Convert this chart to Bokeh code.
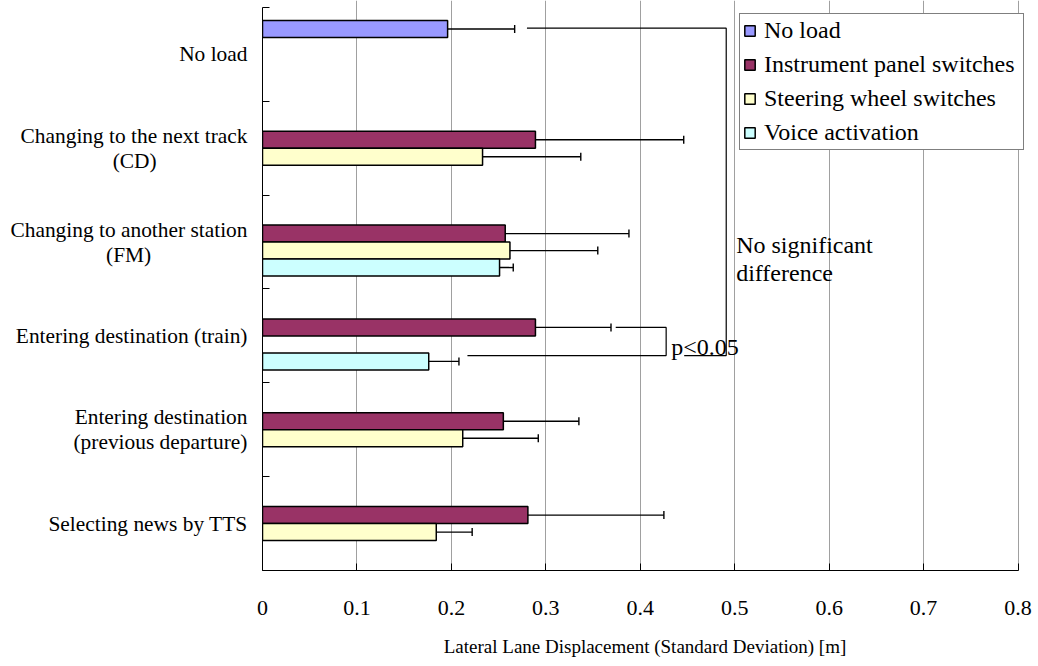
from bokeh.plotting import figure
from bokeh.models import (Range1d, FixedTicker, Whisker, ColumnDataSource, Label,
                          TeeHead)
from bokeh.embed import file_html
from bokeh.resources import INLINE

# ---------------- data ----------------
NB = "\u00a0"
categories = [
    "No load",
    "Changing to the next track\n(CD)" + NB * 17,
    "Changing to another station\n(FM)" + NB * 18,
    "Entering destination (train)",
    "Entering destination\n(previous departure)",
    "Selecting news by TTS",
]
series_names = ["No load", "Instrument panel switches", "Steering wheel switches", "Voice activation"]

no_load_mean = [0.196, None, None, None, None, None]
no_load_sd = [0.071, None, None, None, None, None]
instrument_mean = [None, 0.289, 0.257, 0.289, 0.255, 0.281]
instrument_sd = [None, 0.157, 0.131, 0.080, 0.080, 0.144]
steering_mean = [None, 0.233, 0.262, None, 0.212, 0.184]
steering_sd = [None, 0.104, 0.093, None, 0.080, 0.038]
voice_mean = [None, None, 0.251, 0.176, None, None]
voice_sd = [None, None, 0.0145, 0.032, None, None]

x_ticks = [0, 0.1, 0.2, 0.3, 0.4, 0.5, 0.6, 0.7, 0.8]
x_tick_labels = ["0", "0.1", "0.2", "0.3", "0.4", "0.5", "0.6", "0.7", "0.8"]

colors = ["#9999FF", "#993366", "#FFFFCC", "#CCFFFF"]
FONT = "Liberation Serif"

# ---------------- layout helpers ----------------
GROUP_PAD = 0.138
SLOT = 0.181


def slot_center(g, s):
    return g + GROUP_PAD + SLOT * (s + 0.5)


p = figure(width=1036, height=664, x_range=Range1d(0, 0.81), y_range=Range1d(6, -0.0746),
           output_backend="svg", toolbar_location=None,
           min_border_left=262, min_border_right=9, min_border_top=0, min_border_bottom=94)
p.outline_line_color = None
p.background_fill_color = "white"

series = [(no_load_mean, no_load_sd), (instrument_mean, instrument_sd),
          (steering_mean, steering_sd), (voice_mean, voice_sd)]

for s, ((means, sds), name, col) in enumerate(zip(series, series_names, colors)):
    ys, vals, lo, hi = [], [], [], []
    for g, (m, sd) in enumerate(zip(means, sds)):
        if m is None:
            continue
        ys.append(slot_center(g, s))
        vals.append(m)
        lo.append(m - sd)
        hi.append(m + sd)
    src = ColumnDataSource(dict(y=ys, right=vals, lo=lo, hi=hi))
    p.hbar(y="y", height=SLOT, left=0, right="right", source=src,
           fill_color=col, line_color="black", line_width=1.5, legend_label=name)
    w = Whisker(base="y", lower="lo", upper="hi", dimension="width", source=src,
                line_color="black", line_width=1.4,
                upper_head=TeeHead(size=8, line_color="black", line_width=1.4),
                lower_head=TeeHead(size=8, line_color="black", line_width=1.4))
    p.add_layout(w)

# ---------------- significance brackets ----------------
bx_p = 0.4274
bx_ns = 0.491
y_top_ns = slot_center(0, 0) - 0.008
y_top_p = slot_center(3, 1)
y_bot = slot_center(3, 3) - 0.062
ns_x = [no_load_mean[0] + no_load_sd[0] + 0.013, bx_ns, bx_ns, 0.4465]
ns_y = [y_top_ns, y_top_ns, y_bot, y_bot]
p.line(ns_x, ns_y, line_color="black", line_width=1.2)
pb_x = [instrument_mean[3] + instrument_sd[3] + 0.005, bx_p, bx_p, voice_mean[3] + voice_sd[3] + 0.009]
pb_y = [y_top_p, y_top_p, y_bot, y_bot]
p.line(pb_x, pb_y, line_color="black", line_width=1.2)

p.add_layout(Label(x=0.5015, y=2.68, text="No significant\ndifference", text_font=FONT,
                   text_font_size="24px", text_baseline="middle", text_align="left",
                   text_line_height=1.05, text_color="black"))
p.add_layout(Label(x=0.4327, y=3.62, text="p<0.05", text_font=FONT,
                   text_font_size="24px", text_baseline="middle", text_align="left",
                   text_color="black"))

# ---------------- axes ----------------
xa = p.xaxis[0]
xa.bounds = (0, 0.8)
xa.ticker = FixedTicker(ticks=x_ticks)
xa.major_label_overrides = {t: l for t, l in zip(x_ticks, x_tick_labels)}
xa.major_tick_in = 7
xa.major_tick_out = 0
xa.minor_tick_line_color = None
xa.major_label_standoff = 30
xa.major_label_text_font = FONT
xa.major_label_text_font_size = "22px"
xa.major_label_text_color = "black"
xa.axis_label = "Lateral Lane Displacement (Standard Deviation) [m]"
xa.axis_label_text_font = FONT
xa.axis_label_text_font_size = "19px"
xa.axis_label_text_font_style = "normal"
xa.axis_label_text_color = "black"
xa.axis_label_standoff = 18
xa.axis_line_color = "black"
xa.major_tick_line_color = "black"

ya = p.yaxis[0]
ya.bounds = (0, 6)
centers = [g + 0.5 for g in range(len(categories))]
ya.ticker = FixedTicker(ticks=centers, minor_ticks=list(range(len(categories) + 1)))
ya.major_label_overrides = {c: l for c, l in zip(centers, categories)}
ya.major_tick_line_color = None
ya.major_tick_in = 0
ya.major_tick_out = 0
ya.minor_tick_in = 7
ya.minor_tick_out = 0
ya.minor_tick_line_color = "black"
ya.major_label_standoff = 15
ya.major_label_text_font = FONT
ya.major_label_text_font_size = "21.4px"
ya.major_label_text_line_height = 1.04
ya.major_label_text_color = "black"
ya.axis_line_color = "black"

p.xgrid.ticker = FixedTicker(ticks=x_ticks)
p.xgrid.grid_line_color = "#a0a0a0"
p.xgrid.grid_line_width = 1
p.ygrid.grid_line_color = None

# ---------------- legend ----------------
lg = p.legend[0]
lg.location = (477, 420)
lg.margin = 0
lg.padding = 3
lg.spacing = 7
lg.glyph_width = 13
lg.glyph_height = 13
lg.label_standoff = 8
lg.label_width = 256
lg.label_text_font = FONT
lg.label_text_font_size = "24px"
lg.label_text_color = "black"
lg.border_line_color = "black"
lg.border_line_width = 1
lg.background_fill_alpha = 1

open("out.html", "w").write(file_html(p, INLINE))
